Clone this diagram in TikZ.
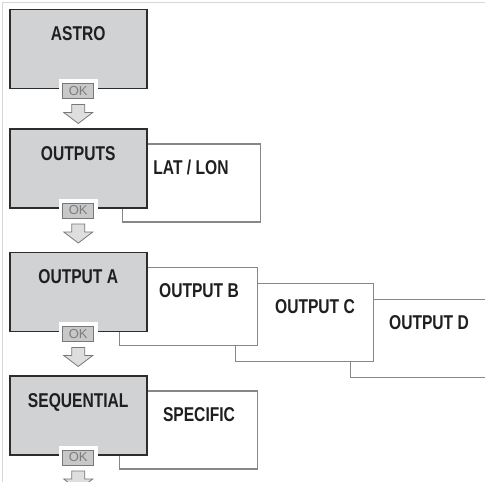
\documentclass[tikz,border=0pt]{standalone}
\usepackage{fontspec}
\setmainfont{Liberation Sans}
\newfontfamily\menufont{Liberation Sans}[FakeStretch=0.78]
\usetikzlibrary{positioning}

\definecolor{menufill}{RGB}{209,210,212}
\definecolor{menuline}{RGB}{45,45,45}
\definecolor{subline}{RGB}{135,135,135}
\definecolor{okfill}{RGB}{200,200,200}
\definecolor{okline}{RGB}{120,120,120}
\definecolor{oktext}{RGB}{125,125,125}
\definecolor{framecol}{RGB}{215,215,215}
\definecolor{arrfill}{RGB}{222,222,222}

\pgfdeclarelayer{back}
\pgfsetlayers{back,main}

\begin{document}
\begin{tikzpicture}[x=1pt, y=1pt,
  menu/.style={draw=menuline, fill=menufill, line width=1.5pt, minimum width=137pt, minimum height=79pt, inner sep=0pt},
  sub/.style={draw=subline, fill=white, line width=1.1pt, minimum width=138pt, minimum height=78pt, inner sep=0pt, anchor=north west},
  title/.style={font=\fontsize{20}{24}\selectfont\menufont\bfseries, text=black!88, anchor=base, inner sep=0pt},
  okbtn/.style={draw=okline, fill=okfill, line width=0.8pt, minimum width=31pt, minimum height=15pt, inner sep=0pt, font=\fontsize{13}{15}\selectfont, text=oktext, preaction={draw=white, line width=8pt}},
  blockarr/.style={draw=okline, fill=arrfill, line width=0.8pt, line join=miter}
]
\useasboundingbox (0,0) rectangle (485,482);
\draw[framecol, line width=1.5pt] (2.5,0) -- (2.5,479.5) -- (485,479.5);

% main menu column
\node[menu, anchor=north west] (astro) at (9,473) {};
\node[menu, below=39pt of astro] (outputs) {};
\node[menu, below=43pt of outputs] (outa) {};
\node[menu, below=43pt of outa] (seq) {};

\node[title] (astrot) at ([yshift=-32pt]astro.north) {ASTRO};
\node[title] (outputst) at ([yshift=-32pt]outputs.north) {OUTPUTS};
\node[title] (outat) at ([yshift=-32pt]outa.north) {OUTPUT A};
\node[title] (seqt) at ([yshift=-32pt]seq.north) {SEQUENTIAL};

% sub menus behind
\begin{pgfonlayer}{back}
\node[sub] (latlon) at ([xshift=113pt,yshift=-15pt]outputs.north west) {};
\node[sub] (outd) at ([xshift=341pt,yshift=-47pt]outa.north west) {};
\node[sub] (outc) at ([xshift=226pt,yshift=-31pt]outa.north west) {};
\node[sub] (outb) at ([xshift=110pt,yshift=-15pt]outa.north west) {};
\node[sub] (specific) at ([xshift=110pt,yshift=-15pt]seq.north west) {};
\end{pgfonlayer}

\node[title] (latlont) at ([xshift=69pt,yshift=-31pt]latlon.north west) {LAT / LON};
\node[title] (outbt) at ([xshift=80pt,yshift=-31pt]outb.north west) {OUTPUT B};
\node[title] (outct) at ([xshift=80pt,yshift=-31pt]outc.north west) {OUTPUT C};
\node[title] (outdt) at ([xshift=79pt,yshift=-31pt]outd.north west) {OUTPUT D};
\node[title] (specifict) at ([xshift=80pt,yshift=-31pt]specific.north west) {SPECIFIC};

% OK buttons and hollow arrows
\foreach \m in {astro,outputs,outa,seq} {
  \node[okbtn] (ok-\m) at ([yshift=-1.5pt]\m.south) {OK};
  \coordinate (arr-\m) at ([yshift=-15pt]\m.south);
  \draw[blockarr] ([xshift=-6.5pt]arr-\m) -- ++(0,-8) -- ++(-8,0) -- ++(14.5,-11)
    -- ++(14.5,11) -- ++(-8,0) -- ++(0,8) -- cycle;
}
\end{tikzpicture}
\end{document}
